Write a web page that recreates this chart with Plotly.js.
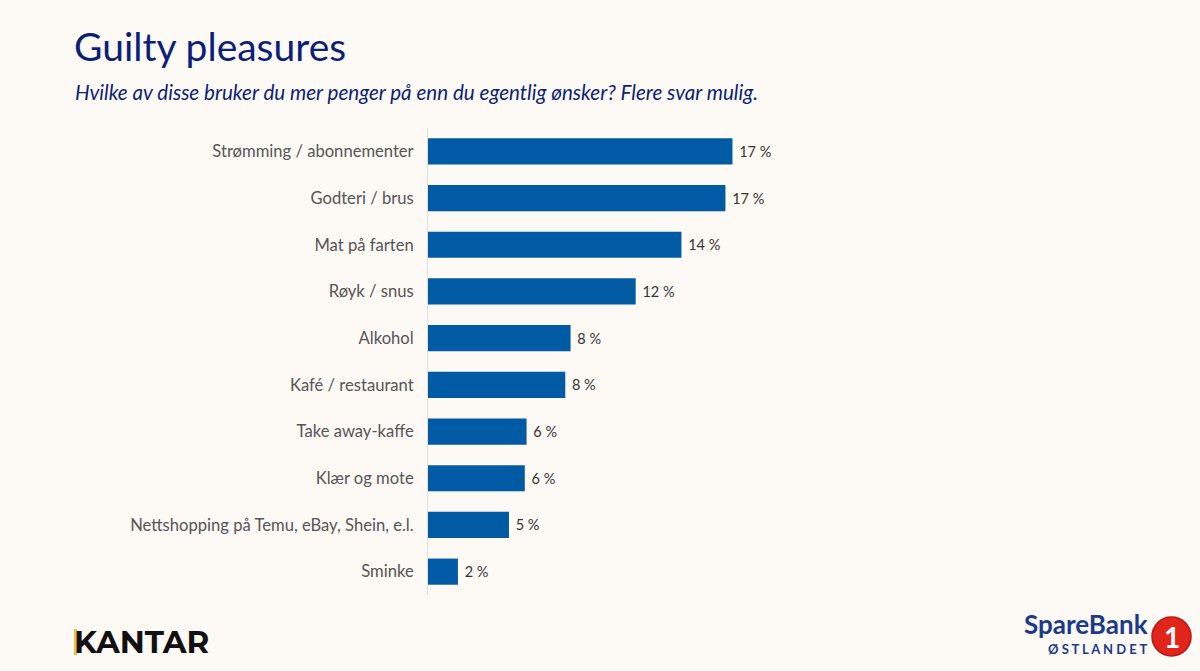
<!DOCTYPE html>
<html>
<head>
<meta charset="utf-8">
<script src="https://cdn.plot.ly/plotly-3.0.1.min.js"></script>
<style>
  html, body { margin: 0; padding: 0; background: #fdf9f5; }
  #chart { width: 1200px; height: 671px; }
</style>
</head>
<body>
<div id="chart"></div>
<script>
const categories = [
    "Strømming / abonnementer",
    "Godteri / brus",
    "Mat på farten",
    "Røyk / snus",
    "Alkohol",
    "Kafé / restaurant",
    "Take away-kaffe",
    "Klær og mote",
    "Nettshopping på Temu, eBay, Shein, e.l.",
    "Sminke"
];
const values = [17.3, 16.9, 14.4, 11.8, 8.1, 7.8, 5.6, 5.5, 4.6, 1.7];

const W = 1200, H = 671;
const ml = 428, mr = 100, mt = 128, mb = 76;
const pw = W - ml - mr, ph = H - mt - mb;
// pixel -> paper helpers for the text around the plot
const px = x => (x - ml) / pw;
const py = y => (H - mb - y) / ph;

let trace = {
    type: 'bar',
    orientation: 'h',
    x: values,
    y: categories,
    marker: { color: '#005aa4' },
    text: values,
    texttemplate: '\u00a0%{x:.0f} %',
    textposition: 'outside',
    cliponaxis: false,
    textfont: { family: 'Lato, sans-serif', size: 14.5, color: '#333333' },
    hoverinfo: 'none'
};

let layout = {
    width: W,
    height: H,
    margin: { l: ml, r: mr, t: mt, b: mb, pad: 0 },
    paper_bgcolor: '#fdf9f5',
    plot_bgcolor: '#fdf9f5',
    bargap: 0.44,
    showlegend: false,
    title: {
        text: 'Guilty pleasures',
        xref: 'container', yref: 'container',
        x: 74 / W, y: 1 - 47 / H,
        xanchor: 'left', yanchor: 'middle',
        font: { family: 'Lato, sans-serif', size: 39, weight: 400, color: '#0b1f78' }
    },
    xaxis: {
        range: [0, pw / 17.6],
        visible: false,
        fixedrange: true
    },
    yaxis: {
        autorange: 'reversed',
        showgrid: false,
        zeroline: false,
        showline: true,
        linecolor: '#e2ded9',
        linewidth: 1,
        ticks: '',
        ticklabelstandoff: 10,
        tickfont: { family: 'Lato, sans-serif', size: 16.6, color: '#555555' },
        fixedrange: true
    },
    annotations: [
        {
            text: '<i>Hvilke av disse bruker du mer penger på enn du egentlig ønsker? Flere svar mulig.</i>',
            xref: 'paper', yref: 'paper',
            x: px(73), y: py(92),
            xanchor: 'left', yanchor: 'middle',
            showarrow: false,
            font: { family: 'Lato, sans-serif', size: 20.6, color: '#0b1f78' }
        },
        {
            text: '<b>KANTAR</b>',
            xref: 'paper', yref: 'paper',
            x: px(72), y: py(642),
            xanchor: 'left', yanchor: 'middle',
            showarrow: false,
            font: { family: 'Montserrat, Lato, sans-serif', size: 31, color: '#111111' }
        },
        {
            text: '<b>SpareBank</b>',
            xref: 'paper', yref: 'paper',
            x: px(1149), y: py(641),
            xanchor: 'right', yanchor: 'bottom',
            borderpad: 0,
            showarrow: false,
            font: { family: 'Lato, sans-serif', size: 26, color: '#1b3a8c' }
        },
        {
            text: '<b>Ø S T L A N D E T</b>',
            xref: 'paper', yref: 'paper',
            x: px(1148), y: py(640),
            xanchor: 'right', yanchor: 'top',
            borderpad: 0,
            showarrow: false,
            font: { family: 'Lato, sans-serif', size: 13, color: '#1b3a8c' }
        },
        {
            text: '<b>1</b>',
            xref: 'paper', yref: 'paper',
            x: px(1171.5), y: py(636.5),
            xanchor: 'center', yanchor: 'middle',
            showarrow: false,
            font: { family: 'Lato, sans-serif', size: 28, color: '#ffffff' }
        }
    ],
    shapes: [
        {
            type: 'rect', xref: 'paper', yref: 'paper',
            x0: px(74), x1: px(77), y0: py(629), y1: py(655),
            fillcolor: '#e8c23a', line: { width: 0 }
        },
        {
            type: 'circle', xref: 'paper', yref: 'paper',
            x0: px(1152), x1: px(1191), y0: py(617), y1: py(656),
            fillcolor: '#e1251b', line: { color: '#b5161a', width: 1.5 }
        }
    ]
};

Plotly.newPlot('chart', [trace], layout, { displayModeBar: false, staticPlot: true });
</script>
</body>
</html>
